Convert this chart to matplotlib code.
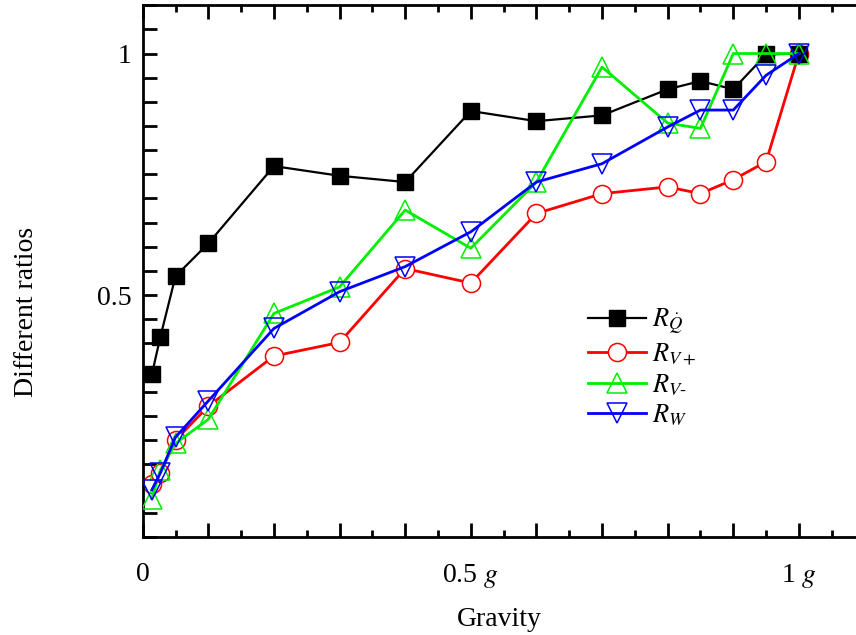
import matplotlib
matplotlib.use("Agg")
import matplotlib.pyplot as plt
from matplotlib.ticker import MultipleLocator

plt.rcParams['font.family'] = ['Liberation Serif', 'DejaVu Serif']
plt.rcParams['mathtext.fontset'] = 'stix'

# gravity levels (fraction of g)
gravity = [0.014, 0.027, 0.05, 0.1, 0.2, 0.3, 0.4, 0.5, 0.6, 0.7, 0.8, 0.85, 0.9, 0.95, 1.0]

r_q = [0.336, 0.414, 0.539, 0.607, 0.767, 0.747, 0.734, 0.881, 0.860, 0.872, 0.926, 0.943, 0.926, 0.998, 1.0]
r_vp = [0.109, 0.132, 0.200, 0.270, 0.374, 0.402, 0.555, 0.525, 0.669, 0.710, 0.724, 0.710, 0.739, 0.776, 1.0]
r_vm = [0.079, 0.138, 0.193, 0.243, 0.462, 0.517, 0.676, 0.597, 0.734, 0.972, 0.856, 0.845, 1.0, 1.0, 1.0]
r_w = [0.097, 0.132, 0.206, 0.281, 0.431, 0.507, 0.559, 0.631, 0.734, 0.772, 0.848, 0.883, 0.883, 0.955, 1.0]

labels = [r'$R_{\dot{Q}}$', r'$R_{V+}$', r'$R_{V\text{-}}$', r'$R_{W}$']

fig = plt.figure(figsize=(8.56, 6.35), dpi=100)
ax = fig.add_axes([0.1667, 0.1548, 0.8333, 0.837])

ax.plot(gravity, r_q, color='black', lw=1.6, marker='s', ms=11,
        mfc='black', mec='black', label=labels[0], zorder=3)
ax.plot(gravity, r_vp, color='red', lw=2, marker='o', ms=13,
        mfc='white', mec='red', mew=1.1, label=labels[1], zorder=2)
ax.plot(gravity, r_vm, color='#00ee00', lw=2, marker='^', ms=14,
        mfc='none', mec='#00ee00', mew=1.1, label=labels[2], zorder=4)
ax.plot(gravity, r_w, color='blue', lw=2, marker='v', ms=14,
        mfc='none', mec='blue', mew=1.1, label=labels[3], zorder=5)

ax.set_xlim(0, 1.087)
ax.set_ylim(0, 1.1)

ax.spines['right'].set_visible(False)
for s in ['left', 'bottom', 'top']:
    ax.spines[s].set_linewidth(2)

ax.xaxis.set_major_locator(MultipleLocator(0.1))
ax.xaxis.set_minor_locator(MultipleLocator(0.05))
ax.yaxis.set_major_locator(MultipleLocator(0.05))

def xfmt(v, pos):
    if abs(v) < 1e-6:
        return '0'
    if abs(v - 0.5) < 1e-6:
        return r'0.5 $g$'
    if abs(v - 1.0) < 1e-6:
        return r'1 $g$'
    return ''

def yfmt(v, pos):
    if abs(v - 0.5) < 1e-6:
        return '0.5'
    if abs(v - 1.0) < 1e-6:
        return '1'
    return ''

ax.xaxis.set_major_formatter(plt.FuncFormatter(xfmt))
ax.yaxis.set_major_formatter(plt.FuncFormatter(yfmt))

ax.tick_params(axis='x', which='major', direction='in', length=10, width=2,
               top=True, labelsize=20, pad=18)
ax.tick_params(axis='x', which='minor', direction='in', length=5, width=2, top=True)
ax.tick_params(axis='y', which='major', direction='in', length=10, width=2,
               labelsize=20, pad=8)

ax.set_xlabel('Gravity', fontsize=20)
ax.xaxis.set_label_coords(0.5, -0.132)
ax.set_ylabel('Different ratios', fontsize=20)
ax.yaxis.set_label_coords(-0.145, 0.423)

leg = ax.legend(loc='upper left', bbox_to_anchor=(0.624, 0.433), frameon=False,
                fontsize=19, handlelength=2.2, handletextpad=0.25,
                labelspacing=0.18, borderaxespad=0, borderpad=0)

fig.savefig('out.png', dpi=100)
